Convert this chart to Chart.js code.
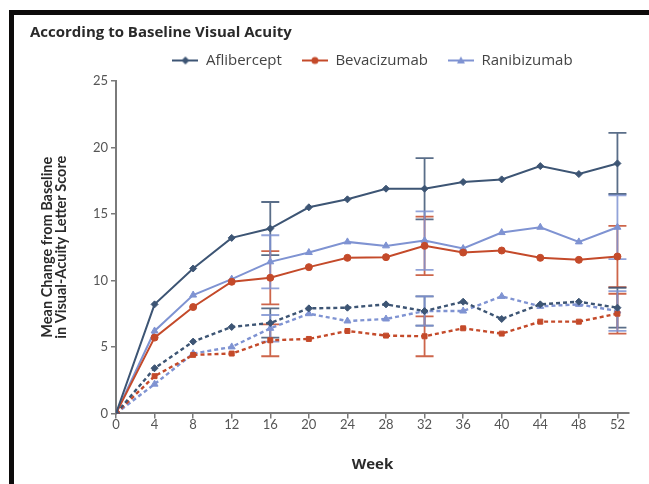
<!DOCTYPE html>
<html>
<head>
<meta charset="utf-8">
<script src="https://cdn.jsdelivr.net/npm/chart.js@4.4.1/dist/chart.umd.min.js"></script>
<style>
  html, body { margin: 0; padding: 0; background: #ffffff; }
  #frame { position: absolute; left: 9px; top: 10px; width: 635px; height: 469px;
           border-top: 5px solid #0d0b0b; border-left: 5px solid #0d0b0b; background: #fff; }
  canvas { display: block; }
</style>
</head>
<body>
<div id="frame"><canvas id="c" width="635" height="469"></canvas></div>
<script>
// ---- data ----
const weeks = [0, 4, 8, 12, 16, 20, 24, 28, 32, 36, 40, 44, 48, 52];
const weekTicks = [0, 4, 8, 12, 16, 20, 24, 28, 32, 36, 40, 44, 48, 52];
const yTicks = [0, 5, 10, 15, 20, 25];
const seriesNames = ['Aflibercept', 'Bevacizumab', 'Ranibizumab'];

// solid lines
const afliberceptA  = [0, 8.2, 10.9, 13.2, 13.9, 15.5, 16.1, 16.9, 16.9, 17.4, 17.6, 18.6, 18.0, 18.8];
const bevacizumabA  = [0, 5.7, 8.0, 9.9, 10.2, 11.0, 11.7, 11.75, 12.6, 12.1, 12.25, 11.7, 11.55, 11.8];
const ranibizumabA  = [0, 6.2, 8.9, 10.1, 11.4, 12.1, 12.9, 12.6, 13.0, 12.4, 13.6, 14.0, 12.9, 14.0];
// dashed lines
const afliberceptB  = [0, 3.4, 5.4, 6.5, 6.8, 7.9, 7.95, 8.2, 7.7, 8.4, 7.1, 8.2, 8.4, 7.95];
const bevacizumabB  = [0, 2.8, 4.4, 4.5, 5.5, 5.6, 6.2, 5.85, 5.8, 6.4, 6.0, 6.9, 6.9, 7.5];
const ranibizumabB  = [0, 2.2, 4.5, 5.0, 6.4, 7.5, 6.95, 7.1, 7.7, 7.7, 8.8, 8.05, 8.2, 7.7];

// error bar half-widths (only at weeks 16, 32, 52)
const afliberceptAErr = [null, null, null, null, 2.0, null, null, null, 2.3, null, null, null, null, 2.3];
const bevacizumabAErr = [null, null, null, null, 2.0, null, null, null, 2.2, null, null, null, null, 2.3];
const ranibizumabAErr = [null, null, null, null, 2.0, null, null, null, 2.2, null, null, null, null, 2.4];
const afliberceptBErr = [null, null, null, null, 1.1, null, null, null, 1.1, null, null, null, null, 1.5];
const bevacizumabBErr = [null, null, null, null, 1.2, null, null, null, 1.5, null, null, null, null, 1.5];
const ranibizumabBErr = [null, null, null, null, 1.0, null, null, null, 1.1, null, null, null, null, 1.5];

const colors = { afl: '#3d5574', bev: '#c44a2a', ran: '#7f93d2' };
const FONT = 'Lato, "Open Sans", "DejaVu Sans", sans-serif';
const FONT2 = '"Open Sans", Lato, "DejaVu Sans", sans-serif';

function pts(vals) { return weeks.map((w, i) => ({ x: w, y: vals[i] })); }

function legendIcon(color, style) {
  const cv = document.createElement('canvas');
  cv.width = 26; cv.height = 10;
  const g = cv.getContext('2d');
  g.strokeStyle = color; g.fillStyle = color; g.lineWidth = 2;
  g.beginPath(); g.moveTo(0, 5); g.lineTo(26, 5); g.stroke();
  g.beginPath();
  if (style === 'rectRot') { g.moveTo(13, 1); g.lineTo(17, 5); g.lineTo(13, 9); g.lineTo(9, 5); g.closePath(); }
  else if (style === 'circle') { g.arc(13, 5, 3.5, 0, Math.PI * 2); }
  else { g.moveTo(13, 1); g.lineTo(17, 8); g.lineTo(9, 8); g.closePath(); }
  g.fill();
  return cv;
}
const legendIcons = [legendIcon(colors.afl, 'rectRot'), legendIcon(colors.bev, 'circle'), legendIcon(colors.ran, 'triangle')];

function ds(label, vals, errs, color, style, dashed) {
  return {
    label: label, data: pts(vals), errors: errs,
    borderColor: color, backgroundColor: color,
    pointBackgroundColor: color, pointBorderColor: color,
    pointStyle: style, pointRadius: style === 'triangle' ? 4 : 3.5, pointBorderWidth: 1,
    borderWidth: dashed ? 2.4 : 2, borderDash: dashed ? [4, 3] : [],
    tension: 0, fill: false
  };
}

const errorBars = {
  id: 'errorBars',
  beforeDatasetsDraw(chart) {
    const ctx = chart.ctx, ys = chart.scales.y, xs = chart.scales.x;
    chart.data.datasets.forEach((d) => {
      if (!d.errors) return;
      d.errors.forEach((e, i) => {
        if (e == null) return;
        const x = xs.getPixelForValue(d.data[i].x);
        const y1 = ys.getPixelForValue(d.data[i].y + e);
        const y2 = ys.getPixelForValue(d.data[i].y - e);
        ctx.save();
        ctx.strokeStyle = d.borderColor; ctx.globalAlpha = 0.85; ctx.lineWidth = 1.8;
        ctx.beginPath();
        ctx.moveTo(x, y1); ctx.lineTo(x, y2);
        ctx.moveTo(x - 9, y1); ctx.lineTo(x + 9, y1);
        ctx.moveTo(x - 9, y2); ctx.lineTo(x + 9, y2);
        ctx.stroke();
        ctx.restore();
      });
    });
  }
};

// legend items need wide horizontal spacing but a compact row height
const legendSpace = {
  id: 'legendSpace',
  afterInit(chart) {
    const lg = chart.legend;
    if (!lg) return;
    const origFit = lg.fit;
    lg.fit = function () { origFit.call(this); this.height -= 6; };
    const origDraw = lg.draw;
    lg.draw = function () {
      this.ctx.save(); this.ctx.translate(0, -9);
      origDraw.call(this);
      this.ctx.restore();
    };
  }
};

new Chart(document.getElementById('c'), {
  type: 'line',
  data: {
    datasets: [
      ds(seriesNames[0], afliberceptA, afliberceptAErr, colors.afl, 'rectRot', false),
      ds(seriesNames[1], bevacizumabA, bevacizumabAErr, colors.bev, 'circle', false),
      ds(seriesNames[2], ranibizumabA, ranibizumabAErr, colors.ran, 'triangle', false),
      ds(seriesNames[0] + ' (dashed)', afliberceptB, afliberceptBErr, colors.afl, 'rectRot', true),
      ds(seriesNames[1] + ' (dashed)', bevacizumabB, bevacizumabBErr, colors.bev, 'rect', true),
      ds(seriesNames[2] + ' (dashed)', ranibizumabB, ranibizumabBErr, colors.ran, 'triangle', true)
    ]
  },
  plugins: [errorBars, legendSpace],
  options: {
    responsive: false, animation: false, devicePixelRatio: 1,
    layout: { padding: { left: 16, right: 20, top: 6, bottom: 10 } },
    plugins: {
      tooltip: { enabled: false },
      title: {
        display: true, text: 'According to Baseline Visual Acuity', align: 'start',
        color: '#2a2a2a', font: { family: FONT2, size: 15, weight: 'bold' },
        padding: { top: 3, bottom: 0 }
      },
      legend: {
        display: true, position: 'top', fullSize: false,
        labels: {
          color: '#444', font: { family: FONT2, size: 15 },
          usePointStyle: true, pointStyleWidth: 26, boxHeight: 10, padding: 20,
          generateLabels(chart) {
            return seriesNames.map((n, i) => ({
              text: n, datasetIndex: i, pointStyle: legendIcons[i],
              fillStyle: 'transparent', strokeStyle: 'transparent', lineWidth: 0, fontColor: '#444', hidden: false
            }));
          }
        }
      }
    },
    scales: {
      x: {
        type: 'linear', min: 0, max: 53.2,
        afterBuildTicks(scale) { scale.ticks = weekTicks.map(v => ({ value: v })); },
        grid: { display: true, drawOnChartArea: false, drawTicks: true, tickLength: 5, color: '#7a7a7a', lineWidth: 1.5 },
        border: { display: true, color: '#7a7a7a', width: 2 },
        ticks: { color: '#555', font: { family: FONT, size: 13 }, padding: -1, maxRotation: 0, autoSkip: false },
        title: { display: true, text: 'Week', color: '#2a2a2a', font: { family: FONT2, size: 15, weight: 'bold' }, padding: { top: 24, bottom: 0 } }
      },
      y: {
        type: 'linear', min: 0, max: 25,
        afterBuildTicks(scale) { scale.ticks = yTicks.map(v => ({ value: v })); },
        afterFit(scale) { scale.width = 86; },
        grid: { display: true, drawOnChartArea: false, drawTicks: true, tickLength: 5, color: '#7a7a7a', lineWidth: 1.5 },
        border: { display: true, color: '#7a7a7a', width: 2 },
        ticks: { color: '#555', font: { family: FONT, size: 13 }, padding: 3 },
        title: {
          display: true, text: ['Mean Change from Baseline', 'in Visual-Acuity Letter Score'],
          color: '#2a2a2a', font: { family: FONT, size: 14.5, weight: 'bold', lineHeight: 0.92 }, padding: { top: 11, bottom: 0 }
        }
      }
    }
  }
});
</script>
</body>
</html>
